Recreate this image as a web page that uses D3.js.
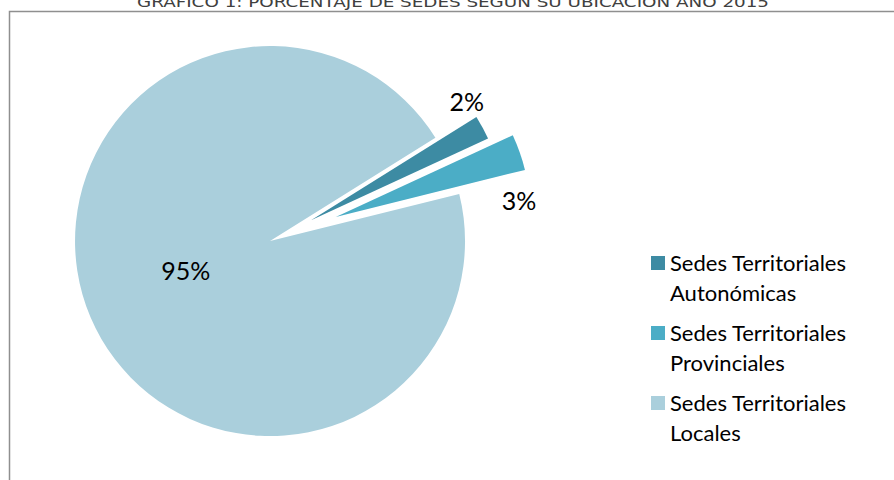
<!DOCTYPE html>
<html><head><meta charset="utf-8">
<script src="https://cdn.jsdelivr.net/npm/d3@7"></script>
<style>body{margin:0;background:#fff}svg{display:block}</style>
</head><body>
<svg id="c" width="894" height="480"></svg>
<script>
const title = "GRÁFICO  1: PORCENTAJE DE SEDES SEGÚN SU UBICACIÓN AÑO 2015";
const categories = ["Sedes Territoriales Autonómicas", "Sedes Territoriales Provinciales", "Sedes Territoriales Locales"];
const legendLines = [["Sedes Territoriales", "Autonómicas"], ["Sedes Territoriales", "Provinciales"], ["Sedes Territoriales", "Locales"]];
const values = [2, 3, 95];
const valueLabels = ["2%", "3%", "95%"];
const colors = ["#3D8BA3", "#4BADC6", "#AACFDC"];

// style
const explode = [33, 57, 13];
const labelRadius = [196, 184, 89];
const labelShift = [-9, 14, 4]; // degrees
const W = 894, H = 480;
const cx = 282, cy = 236, R = 195;
const startDeg = 58;

const svg = d3.select("#c");
// frame
svg.append("path").attr("d", `M9.5,${H+5}V11.5H${W+5}`).attr("fill","none").attr("stroke","#8f8f8f").attr("stroke-width",1.5);
svg.append("text").attr("x", 453).attr("y", 7).attr("text-anchor","middle")
  .attr("font-family","'DejaVu Sans', sans-serif").attr("font-size",14.5).attr("fill","#404040")
  .attr("textLength",632).attr("lengthAdjust","spacingAndGlyphs").text(title);

const toRad = d => d * Math.PI / 180;
const pie = d3.pie().sort(null).value(d => d).startAngle(toRad(startDeg)).endAngle(toRad(startDeg + 360));
const arcs = pie(values);
const arc = d3.arc().innerRadius(0).outerRadius(R);
const g = svg.append("g").attr("transform", `translate(${cx},${cy})`);
const slices = g.selectAll("g.s").data(arcs).join("g").attr("class","s")
  .attr("transform", (d,i) => {
    const a = (d.startAngle + d.endAngle) / 2;
    return `translate(${explode[i]*Math.sin(a)},${-explode[i]*Math.cos(a)})`;
  });
slices.append("path").attr("d", arc).attr("fill", (d,i) => colors[i]);
slices.append("text")
  .attr("transform", (d,i) => {
    const a = (d.startAngle + d.endAngle) / 2 + toRad(labelShift[i]);
    return `translate(${labelRadius[i]*Math.sin(a)},${-labelRadius[i]*Math.cos(a)})`;
  })
  .attr("text-anchor","middle").attr("dominant-baseline","central")
  .attr("font-family","Lato, 'Open Sans', sans-serif").attr("font-size",25).attr("fill","#000")
  .text((d,i) => valueLabels[i]);

// legend
const lg = svg.append("g").attr("transform","translate(651,256)");
const items = lg.selectAll("g").data(categories).join("g").attr("transform",(d,i)=>`translate(0,${i*70})`);
items.append("rect").attr("width",14).attr("height",14).attr("fill",(d,i)=>colors[i]);
items.each(function(d,i){
  const t = d3.select(this).append("text").attr("x",19).attr("y",15)
    .attr("font-family","Lato, 'Open Sans', sans-serif").attr("font-size",22).attr("fill","#000");
  legendLines[i].forEach((line,j) => t.append("tspan").attr("x",19).attr("dy", j===0?0:30).text(line));
});
</script>
</body></html>
